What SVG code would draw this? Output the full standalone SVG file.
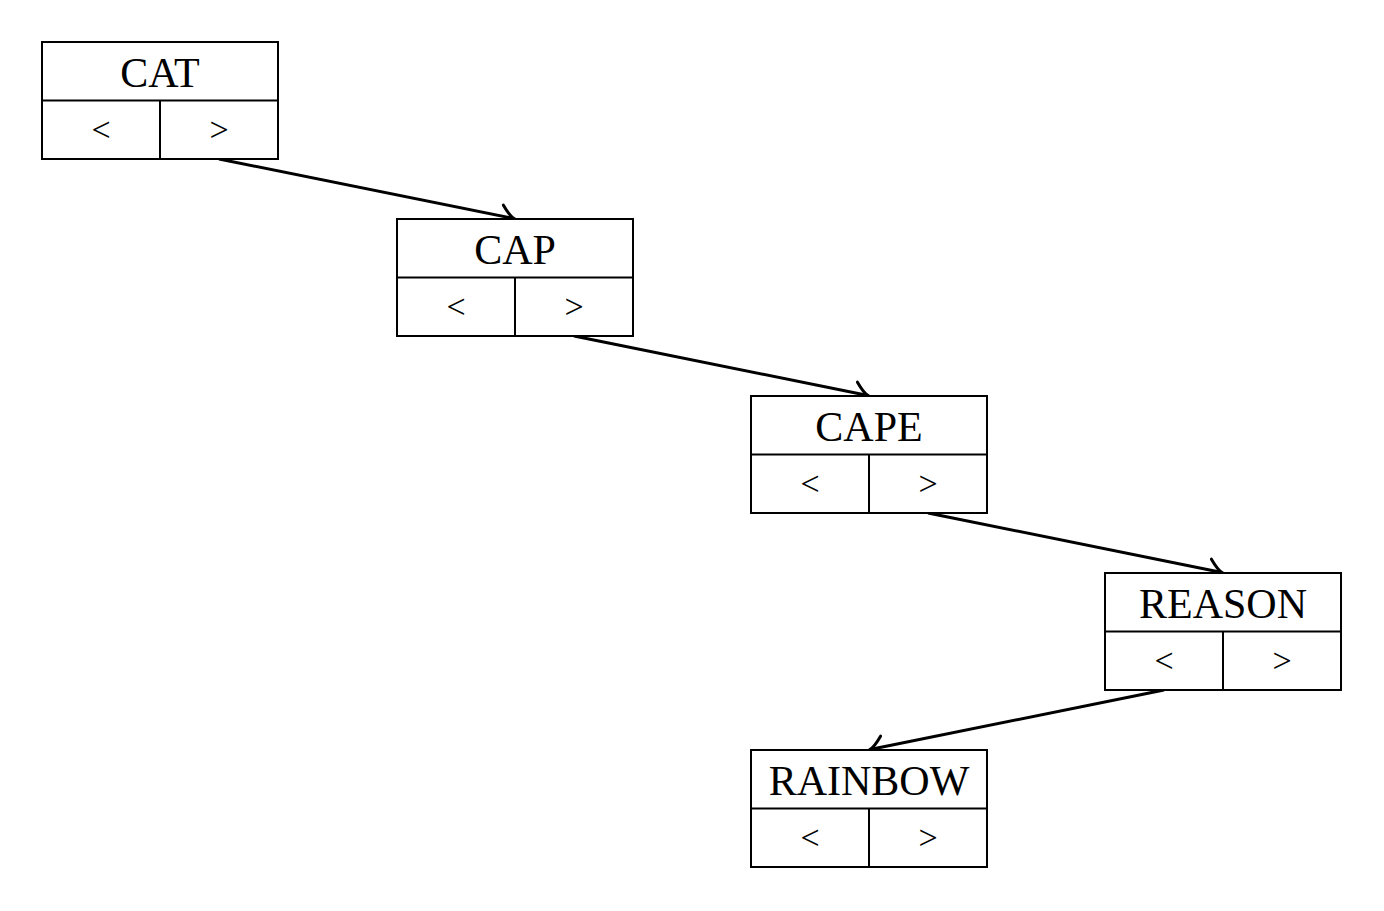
<svg xmlns="http://www.w3.org/2000/svg" width="1384" height="911" viewBox="0 0 1384 911">
<style>
.box{fill:#fff;stroke:#000;stroke-width:2}
.t{font-family:"Liberation Serif","DejaVu Serif",serif;font-size:42px;text-anchor:middle;fill:#000}
.s{font-family:"Liberation Serif","DejaVu Serif",serif;font-size:34px;text-anchor:middle;fill:#000}
.c{fill:none;stroke:#000;stroke-width:3}
</style>
<defs>
<marker id="ah" markerUnits="userSpaceOnUse" markerWidth="36" markerHeight="36" viewBox="-18 -18 36 36" refX="0" refY="0" orient="auto">
<path d="M-13,-11 Q-5,-2 0,0 Q-5,2 -13,11" fill="none" stroke="#000" stroke-width="3" stroke-linecap="round"/>
</marker>
</defs>
<rect width="1384" height="911" fill="#fff"/>
<g id="connectors">
<line class="c" x1="219" y1="159" x2="514" y2="218.5" marker-end="url(#ah)"/>
<line class="c" x1="574" y1="336" x2="868" y2="395.5" marker-end="url(#ah)"/>
<line class="c" x1="928" y1="513" x2="1222" y2="572.5" marker-end="url(#ah)"/>
<line class="c" x1="1164" y1="690" x2="870" y2="749.5" marker-end="url(#ah)"/>
</g>
<g id="node-cat" transform="translate(42,42)">
<rect class="box" x="0" y="0" width="236" height="117"/>
<line class="box" x1="0" y1="58.5" x2="236" y2="58.5"/>
<line class="box" x1="118" y1="58.5" x2="118" y2="117"/>
<text class="t" x="118" y="45">CAT</text>
<text class="s" x="59" y="99">&lt;</text>
<text class="s" x="177" y="99">&gt;</text>
</g>
<g id="node-cap" transform="translate(397,219)">
<rect class="box" x="0" y="0" width="236" height="117"/>
<line class="box" x1="0" y1="58.5" x2="236" y2="58.5"/>
<line class="box" x1="118" y1="58.5" x2="118" y2="117"/>
<text class="t" x="118" y="45">CAP</text>
<text class="s" x="59" y="99">&lt;</text>
<text class="s" x="177" y="99">&gt;</text>
</g>
<g id="node-cape" transform="translate(751,396)">
<rect class="box" x="0" y="0" width="236" height="117"/>
<line class="box" x1="0" y1="58.5" x2="236" y2="58.5"/>
<line class="box" x1="118" y1="58.5" x2="118" y2="117"/>
<text class="t" x="118" y="45">CAPE</text>
<text class="s" x="59" y="99">&lt;</text>
<text class="s" x="177" y="99">&gt;</text>
</g>
<g id="node-reason" transform="translate(1105,573)">
<rect class="box" x="0" y="0" width="236" height="117"/>
<line class="box" x1="0" y1="58.5" x2="236" y2="58.5"/>
<line class="box" x1="118" y1="58.5" x2="118" y2="117"/>
<text class="t" x="118" y="45">REASON</text>
<text class="s" x="59" y="99">&lt;</text>
<text class="s" x="177" y="99">&gt;</text>
</g>
<g id="node-rainbow" transform="translate(751,750)">
<rect class="box" x="0" y="0" width="236" height="117"/>
<line class="box" x1="0" y1="58.5" x2="236" y2="58.5"/>
<line class="box" x1="118" y1="58.5" x2="118" y2="117"/>
<text class="t" x="118" y="45">RAINBOW</text>
<text class="s" x="59" y="99">&lt;</text>
<text class="s" x="177" y="99">&gt;</text>
</g>
</svg>
